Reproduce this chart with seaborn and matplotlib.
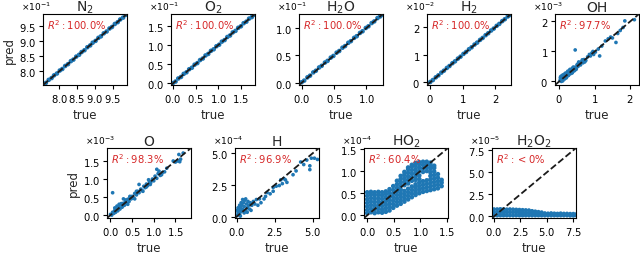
import numpy as np
import pandas as pd
import matplotlib
matplotlib.use("Agg")
import matplotlib.pyplot as plt
import seaborn as sns

# ---------------- data (values in units of 10**exponent) ----------------
species = ["N$_2$", "O$_2$", "H$_2$O", "H$_2$", "OH", "O", "H", "HO$_2$", "H$_2$O$_2$"]
r2_text = [r"$R^2:$100.0%", r"$R^2:$100.0%", r"$R^2:$100.0%", r"$R^2:$100.0%",
           r"$R^2:$97.7%", r"$R^2:$98.3%", r"$R^2:$96.9%", r"$R^2:$60.4%", r"$R^2:<$0%"]
exponents = [-1, -1, -1, -2, -3, -3, -4, -4, -5]
limits = [(7.55, 9.9), (-0.04, 1.81), (-0.04, 1.255), (-0.1, 2.48), (-0.12, 2.25),
          (-0.08, 1.86), (-0.1, 5.4), (-0.06, 1.52), (-0.19, 7.75)]
ticks = [[8.0, 8.5, 9.0, 9.5], [0.0, 0.5, 1.0, 1.5], [0.0, 0.5, 1.0], [0, 1, 2], [0, 1, 2],
         [0.0, 0.5, 1.0, 1.5], [0.0, 2.5, 5.0], [0.0, 0.5, 1.0, 1.5], [0.0, 2.5, 5.0, 7.5]]

n2_true = [7.56, 7.63, 7.71, 7.79, 7.86, 7.94, 8.02, 8.09, 8.17, 8.25, 8.33, 8.40, 8.48, 8.56, 8.63, 8.71,
           8.79, 8.87, 8.94, 9.02, 9.10, 9.17, 9.25, 9.33, 9.41, 9.48, 9.56, 9.64, 9.71, 9.79, 9.86, 9.89]
n2_pred = [7.57, 7.62, 7.72, 7.78, 7.87, 7.93, 8.03, 8.08, 8.18, 8.24, 8.34, 8.39, 8.49, 8.55, 8.64, 8.70,
           8.80, 8.86, 8.95, 9.01, 9.11, 9.16, 9.26, 9.32, 9.42, 9.47, 9.57, 9.63, 9.72, 9.78, 9.87, 9.89]

o2_true = [0.00, 0.06, 0.12, 0.18, 0.24, 0.30, 0.36, 0.42, 0.48, 0.54, 0.60, 0.66, 0.72, 0.78, 0.84, 0.90,
           0.96, 1.02, 1.08, 1.14, 1.20, 1.26, 1.32, 1.38, 1.44, 1.50, 1.56, 1.62, 1.68, 1.74, 1.79]
o2_pred = [0.01, 0.05, 0.13, 0.17, 0.25, 0.29, 0.37, 0.41, 0.49, 0.53, 0.61, 0.65, 0.73, 0.77, 0.85, 0.89,
           0.97, 1.01, 1.09, 1.13, 1.21, 1.25, 1.33, 1.37, 1.45, 1.49, 1.57, 1.61, 1.69, 1.73, 1.79]

h2o_true = [0.00, 0.04, 0.09, 0.13, 0.18, 0.22, 0.27, 0.31, 0.36, 0.40, 0.45, 0.49, 0.54, 0.58, 0.63,
            0.67, 0.72, 0.76, 0.81, 0.85, 0.90, 0.94, 0.99, 1.03, 1.08, 1.12, 1.17, 1.21, 1.24]
h2o_pred = [0.01, 0.04, 0.10, 0.13, 0.19, 0.22, 0.28, 0.31, 0.37, 0.40, 0.46, 0.49, 0.55, 0.58, 0.64,
            0.67, 0.73, 0.76, 0.82, 0.85, 0.91, 0.94, 1.00, 1.03, 1.09, 1.12, 1.18, 1.21, 1.24]

h2_true = [0.00, 0.08, 0.17, 0.25, 0.34, 0.42, 0.51, 0.59, 0.68, 0.76, 0.85, 0.93, 1.02, 1.10, 1.19,
           1.27, 1.36, 1.44, 1.53, 1.61, 1.70, 1.78, 1.87, 1.95, 2.04, 2.12, 2.21, 2.29, 2.38, 2.44]
h2_pred = [0.01, 0.08, 0.18, 0.25, 0.35, 0.42, 0.52, 0.59, 0.69, 0.76, 0.86, 0.93, 1.03, 1.10, 1.20,
           1.27, 1.37, 1.44, 1.54, 1.61, 1.71, 1.78, 1.88, 1.95, 2.05, 2.12, 2.22, 2.29, 2.39, 2.44]

oh_true = [0.02, 0.05, 0.08, 0.10, 0.12, 0.15, 0.17, 0.20, 0.22, 0.25, 0.27, 0.30, 0.32, 0.35, 0.37, 0.40,
           0.42, 0.45, 0.48, 0.50, 0.53, 0.56, 0.60, 0.63, 0.67, 0.70, 0.75, 0.80, 0.85, 0.88, 0.92, 0.97,
           1.02, 1.10, 1.14, 1.20, 1.30, 1.38, 1.45, 1.50, 1.60, 1.65, 1.72, 1.85, 2.12, 0.45, 0.08, 0.12,
           0.18, 0.03, 0.06, 0.28, 0.33, 0.15, 0.38, 0.55, 0.65, 0.72, 0.95, 1.80, 0.24, 0.44,
           0.04, 0.10, 0.14, 0.20, 0.26, 0.30, 0.36, 0.40, 0.47, 0.52]
oh_pred = [0.03, 0.08, 0.05, 0.15, 0.10, 0.20, 0.12, 0.22, 0.17, 0.30, 0.22, 0.32, 0.26, 0.38, 0.30, 0.40,
           0.35, 0.47, 0.42, 0.55, 0.50, 0.60, 0.55, 0.66, 0.62, 0.73, 0.70, 0.82, 0.90, 0.85, 0.95, 0.90,
           0.98, 1.08, 0.85, 1.18, 1.35, 1.42, 1.48, 1.45, 1.30, 1.60, 1.70, 2.02, 2.06, 1.05, 0.20, 0.22,
           0.28, 0.12, 0.00, 0.35, 0.40, 0.08, 0.45, 0.65, 0.72, 0.65, 1.00, 1.80, 0.34, 0.38,
           0.16, 0.02, 0.24, 0.12, 0.20, 0.40, 0.28, 0.48, 0.40, 0.58]

o_true = [0.00, 0.03, 0.05, 0.08, 0.10, 0.12, 0.15, 0.17, 0.20, 0.22, 0.25, 0.27, 0.30, 0.32, 0.35, 0.38,
          0.40, 0.43, 0.45, 0.48, 0.50, 0.53, 0.56, 0.60, 0.63, 0.66, 0.70, 0.73, 0.77, 0.80, 0.83, 0.86,
          0.90, 0.93, 0.97, 1.00, 1.03, 1.07, 1.10, 1.12, 1.07, 1.15, 1.20, 1.25, 1.30, 1.45, 1.50, 1.55,
          1.60, 1.58, 1.68, 1.62, 0.05, 0.30, 0.20, 0.56, 0.66, 0.92, 0.83, 0.75, 0.40, 0.15, 0.10,
          0.35, 0.45, 0.60, 0.88, 1.18, 0.25]
o_pred = [0.02, 0.00, 0.08, 0.05, 0.13, 0.08, 0.17, 0.12, 0.22, 0.17, 0.30, 0.22, 0.33, 0.27, 0.38, 0.32,
          0.44, 0.38, 0.50, 0.45, 0.52, 0.48, 0.60, 0.56, 0.66, 0.62, 0.72, 0.68, 0.80, 0.76, 0.86, 0.82,
          0.93, 0.90, 1.00, 0.95, 1.08, 1.02, 1.15, 1.22, 1.27, 1.10, 1.18, 1.20, 1.30, 1.50, 1.47, 1.50,
          1.48, 1.68, 1.72, 1.55, 0.62, 0.45, 0.30, 0.45, 0.85, 0.85, 0.78, 0.66, 0.30, 0.25, 0.20,
          0.42, 0.52, 0.66, 0.98, 1.12, 0.32]

h_true = [0.05, 0.10, 0.15, 0.20, 0.25, 0.30, 0.35, 0.40, 0.45, 0.50, 0.55, 0.60, 0.65, 0.70, 0.75, 0.80,
          0.85, 0.90, 1.00, 1.10, 1.20, 0.10, 0.20, 0.30, 0.05, 0.40, 0.60, 0.25, 0.50, 1.30, 1.50, 1.60,
          1.80, 2.00, 2.20, 2.40, 2.60, 2.80, 2.90, 3.00, 3.20, 3.10, 3.30, 3.70, 3.90, 4.20, 4.40, 4.60,
          4.80, 4.90, 5.10, 4.80, 5.30, 1.90, 2.40, 0.70, 0.95, 1.40, 0.15, 0.35]
h_pred = [0.10, 0.30, 0.50, 0.20, 0.70, 0.40, 0.90, 0.60, 1.10, 0.80, 1.30, 0.50, 1.00, 0.70, 1.20, 0.90,
          0.60, 1.10, 0.90, 1.20, 1.00, 0.70, 0.90, 1.10, 0.50, 1.35, 1.40, 0.05, 0.30, 1.35, 1.40, 1.10,
          1.40, 1.90, 1.80, 2.30, 2.40, 2.45, 2.90, 2.60, 2.90, 3.00, 2.70, 3.30, 3.60, 4.30, 4.10, 4.45,
          4.00, 4.60, 4.60, 3.70, 4.50, 1.60, 2.00, 0.35, 0.50, 0.90, 0.25, 0.55]

# HO2: columns of points (true value -> predicted values)
ho2_columns = [
    (0.00, [0.05, 0.12, 0.20, 0.28, 0.36, 0.44, 0.52]),
    (0.07, [0.07, 0.15, 0.23, 0.31, 0.39, 0.47, 0.53]),
    (0.14, [0.05, 0.13, 0.21, 0.29, 0.37, 0.45, 0.52]),
    (0.21, [0.07, 0.15, 0.23, 0.31, 0.39, 0.47, 0.53]),
    (0.28, [0.06, 0.13, 0.21, 0.29, 0.37, 0.45, 0.52]),
    (0.35, [0.08, 0.16, 0.24, 0.32, 0.40, 0.48, 0.54]),
    (0.42, [0.11, 0.19, 0.27, 0.35, 0.43, 0.51, 0.59]),
    (0.49, [0.17, 0.25, 0.33, 0.41, 0.49, 0.57, 0.66]),
    (0.56, [0.22, 0.30, 0.38, 0.46, 0.54, 0.62, 0.70, 0.78]),
    (0.63, [0.26, 0.34, 0.42, 0.50, 0.58, 0.66, 0.74, 0.82, 0.89]),
    (0.70, [0.31, 0.39, 0.47, 0.55, 0.68, 0.76, 0.84, 0.92, 0.98]),
    (0.77, [0.36, 0.44, 0.52, 0.60, 0.72, 0.80, 0.88, 0.96, 1.04, 1.08]),
    (0.84, [0.41, 0.49, 0.57, 0.65, 0.78, 0.86, 0.94, 1.02, 1.10, 1.14]),
    (0.91, [0.46, 0.54, 0.62, 0.70, 0.80, 0.88, 0.96, 1.04, 1.12, 1.18]),
    (0.98, [0.50, 0.58, 0.66, 0.74, 0.82, 0.90, 1.00, 1.08, 1.16, 1.20]),
    (1.05, [0.53, 0.61, 0.69, 0.77, 0.98, 1.06, 1.14, 1.21]),
    (1.12, [0.55, 0.63, 0.71, 0.79, 1.00, 1.08, 1.16, 1.21]),
    (1.19, [0.57, 0.65, 0.73, 0.81, 0.89, 0.97, 1.05, 1.13, 1.19]),
    (1.26, [0.59, 0.67, 0.75, 0.83, 0.91, 0.99, 1.07, 1.12]),
    (1.33, [0.61, 0.69, 0.77, 0.85, 0.93]),
    (1.40, [0.66, 0.74, 0.80]),
]

# H2O2: columns of points (true value -> predicted values)
h2o2_columns = [
    (0.0, [0.10, 0.45, 0.80]), (0.3, [0.10, 0.45, 0.80]), (0.6, [0.10, 0.45, 0.82]),
    (0.9, [0.10, 0.45, 0.80]), (1.2, [0.10, 0.45, 0.78]), (1.5, [0.10, 0.45, 0.80]),
    (1.8, [0.10, 0.45, 0.78]), (2.1, [0.10, 0.45, 0.76]), (2.4, [0.10, 0.42, 0.74]),
    (2.7, [0.10, 0.42, 0.72]), (3.0, [0.10, 0.40, 0.70]), (3.3, [0.10, 0.40, 0.68]),
    (3.6, [0.10, 0.35, 0.60]), (3.9, [0.10, 0.33, 0.55]), (4.2, [0.10, 0.30, 0.50]),
    (4.5, [0.10, 0.30, 0.45]), (4.8, [0.10, 0.35]), (5.1, [0.10, 0.32]), (5.4, [0.10, 0.35]),
    (5.7, [0.10, 0.32]), (6.0, [0.10, 0.30]), (6.3, [0.10, 0.33]), (6.6, [0.10, 0.30]),
    (6.9, [0.10, 0.30]), (7.2, [0.08, 0.28]), (7.5, [0.08, 0.28]), (7.8, [0.10, 0.25]),
]

ho2_true = [x for x, ys in ho2_columns for _ in ys]
ho2_pred = [y for _, ys in ho2_columns for y in ys]
h2o2_true = [x for x, ys in h2o2_columns for _ in ys]
h2o2_pred = [y for _, ys in h2o2_columns for y in ys]

true_sets = [n2_true, o2_true, h2o_true, h2_true, oh_true, o_true, h_true, ho2_true, h2o2_true]
pred_sets = [n2_pred, o2_pred, h2o_pred, h2_pred, oh_pred, o_pred, h_pred, ho2_pred, h2o2_pred]
marker_sizes = [11, 11, 11, 11, 7, 7, 7, 11, 9]

# ---------------- figure ----------------
sns.set_theme(style="ticks")
plt.rcParams["font.family"] = ["DejaVu Sans"]
plt.rcParams["axes.edgecolor"] = "black"
plt.rcParams["xtick.color"] = "black"
plt.rcParams["ytick.color"] = "black"

fig = plt.figure(figsize=(6.4, 2.55), dpi=100)
W, H = 640.0, 255.0
top_lefts = [43, 171, 299, 427, 555]
bot_lefts = [107, 235, 364, 492]
boxes = [(l, 86, 84, 71) for l in top_lefts] + [(l, 219, 84, 70) for l in bot_lefts]

for i in range(9):
    l, b, w, h = boxes[i]
    ax = fig.add_axes([l / W, (H - b) / H, w / W, h / H])
    scale = 10.0 ** exponents[i]
    df = pd.DataFrame({"true": np.array(true_sets[i]) * scale,
                       "pred": np.array(pred_sets[i]) * scale})
    sns.scatterplot(data=df, x="true", y="pred", ax=ax, s=marker_sizes[i],
                    color="tab:blue", edgecolor="none", linewidth=0, zorder=2)
    lo, hi = limits[i][0] * scale, limits[i][1] * scale
    ax.plot([lo, hi], [lo, hi], "k--", lw=1.3, zorder=3)
    ax.set_xlim(lo, hi)
    ax.set_ylim(lo, hi)
    tk = [t * scale for t in ticks[i]]
    ax.set_xticks(tk)
    ax.set_yticks(tk)
    ax.ticklabel_format(style="sci", scilimits=(0, 0), useMathText=True)
    ax.xaxis.get_offset_text().set_visible(False)
    off = ax.yaxis.get_offset_text()
    off.set_fontsize(6.5)
    off.set_x(-0.26)
    off.set_horizontalalignment("left")
    ax.tick_params(labelsize=7.2, length=3, width=0.8, pad=2)
    for sp in ax.spines.values():
        sp.set_linewidth(0.8)
        sp.set_color("black")
    ax.set_title(species[i], fontsize=10, y=1.0, pad=2.5)
    ax.set_xlabel("true", fontsize=8.5, labelpad=3)
    if i in (0, 5):
        ax.set_ylabel("pred", fontsize=8.5, labelpad=2)
    else:
        ax.set_ylabel("")
    ax.text(0.05, 0.86, r2_text[i], transform=ax.transAxes, color="tab:red",
            fontsize=7.2, va="center", ha="left")

fig.savefig("out.png", dpi=100)
